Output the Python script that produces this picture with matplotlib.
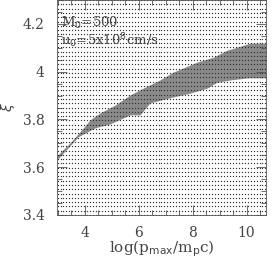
import numpy as np
import matplotlib.pyplot as plt

# grid of models (log p_max, xi)
logp_grid = np.arange(3.0, 10.75, 0.11)
xi_grid = np.linspace(3.4, 4.3, 51)

# boundaries of the allowed (shaded) band
upper_logp = [3.0, 3.48, 3.85, 4.22, 4.59, 5.15, 5.70, 6.19, 6.81, 7.30, 8.19, 8.78, 9.30, 10.15, 10.74]
upper_xi = [3.646, 3.700, 3.746, 3.796, 3.825, 3.858, 3.900, 3.929, 3.963, 3.996, 4.038, 4.058, 4.088, 4.117, 4.117]
lower_logp = [3.0, 3.78, 4.41, 4.96, 5.70, 6.07, 6.44, 7.30, 7.93, 8.56, 8.93, 9.41, 10.04, 10.74]
lower_xi = [3.629, 3.725, 3.763, 3.779, 3.817, 3.817, 3.867, 3.892, 3.908, 3.929, 3.954, 3.963, 3.972, 3.972]

fig = plt.figure(figsize=(2.73, 2.61), dpi=100)
ax = fig.add_axes([57 / 273, 46 / 261, 209 / 273, 215 / 261])

# shaded band as polygon
px = list(upper_logp) + list(lower_logp[::-1])
py = list(upper_xi) + list(lower_xi[::-1])
ax.fill(px, py, color='#8a8a8a', lw=0, zorder=1)

X, Y = np.meshgrid(logp_grid, xi_grid)
ax.plot(X.ravel(), Y.ravel(), 's', ms=0.85, mew=0, color='#333333', zorder=2)

ax.set_xlim(2.98, 10.72)
ax.set_ylim(3.4, 4.3)
ax.set_xticks([4, 6, 8, 10])
ax.set_xticks(np.arange(3.0, 10.8, 0.5), minor=True)
ax.set_yticks([3.4, 3.6, 3.8, 4.0, 4.2])
ax.set_yticklabels(['3.4', '3.6', '3.8', '4', '4.2'])
ax.set_yticks(np.arange(3.4, 4.31, 0.05), minor=True)
ax.tick_params(which='both', direction='in', top=True, right=True, width=0.6, color='#555555',
               labelsize=10, labelcolor='#444444')
ax.tick_params(axis='y', pad=9)
ax.tick_params(axis='x', pad=8)
ax.tick_params(which='major', length=7)
ax.tick_params(which='minor', length=3.5)
for lab in ax.get_xticklabels() + ax.get_yticklabels():
    lab.set_family('DejaVu Serif')
for s in ax.spines.values():
    s.set_linewidth(0.6)
    s.set_color('#555555')

ax.set_xlabel(r'log(p$_{\rm max}$/m$_{\rm p}$c)', fontsize=11, family='DejaVu Serif',
              color='#444444', labelpad=-1)
ax.set_ylabel(r'$\xi$', fontsize=10, color='#444444', labelpad=4)

ax.text(0.02, 0.892, r'M$_0$=500', transform=ax.transAxes, fontsize=9.5, va='center',
        family='DejaVu Serif', color='#444444', zorder=3)
ax.text(0.02, 0.81, r'u$_0$=5x10$^8$cm/s', transform=ax.transAxes, fontsize=9.5, va='center',
        family='DejaVu Serif', color='#444444', zorder=3)

fig.savefig('out.png', dpi=100)
